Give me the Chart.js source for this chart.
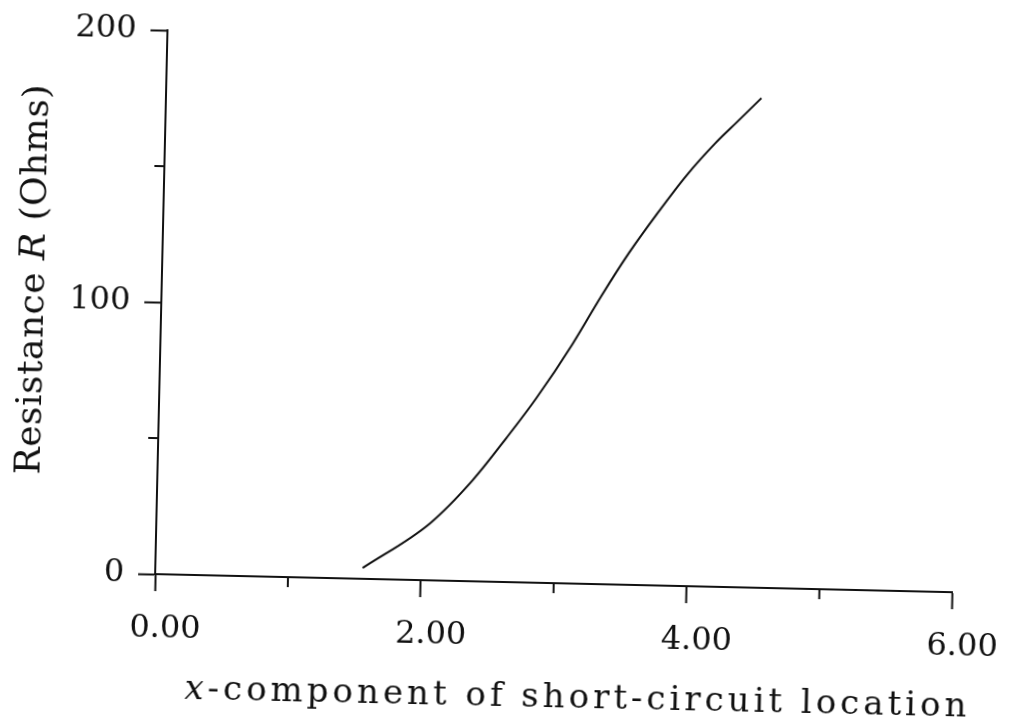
<!DOCTYPE html>
<html>
<head>
<meta charset="utf-8">
<script src="https://cdn.jsdelivr.net/npm/chart.js@4.4.0/dist/chart.umd.min.js"></script>
<style>
    html, body { margin: 0; padding: 0; background: #fff; overflow: hidden; }
    /* the scanned figure sits slightly skewed on the page */
    #wrap { width: 1011px; height: 727px; transform: rotate(1.3deg); transform-origin: 50% 50%; }
</style>
</head>
<body>
<div id="wrap"><canvas id="chart" width="1011" height="727"></canvas></div>
<script>
// data
const xValues = [1.56, 2.06, 2.37, 2.62, 2.84, 3.10, 3.31, 3.51, 3.72, 3.93, 4.14, 4.30, 4.48];
const rValues = [4, 21, 37, 53, 68, 88, 106, 122, 137, 151, 163, 171, 180];

const xMajorTicks = [0, 2, 4, 6];
const xMinorTicks = [1, 3, 5];
const yMajorTicks = [0, 100, 200];
const yMinorTicks = [50, 150];

const xTitleParts = [['x', 'italic'], ['-component of short-circuit location', 'normal']];
const yTitleParts = [['Resistance ', 'normal'], ['R', 'italic'], [' (Ohms)', 'normal']];

const ink = '#111';
const serif = "'DejaVu Serif', 'Liberation Serif', serif";

function drawParts(ctx, parts, cx, cy, size) {
    let total = 0;
    const widths = parts.map(p => {
        ctx.font = `${p[1]} ${size}px ${serif}`;
        const w = ctx.measureText(p[0]).width;
        total += w;
        return w;
    });
    let x = cx - total / 2;
    parts.forEach((p, i) => {
        ctx.font = `${p[1]} ${size}px ${serif}`;
        ctx.fillText(p[0], x, cy);
        x += widths[i];
    });
}

// axis titles (mixed italic/roman), drawn by hand
const axisTitles = {
    id: 'axisTitles',
    afterDraw(chart) {
        const ctx = chart.ctx;
        ctx.save();
        ctx.fillStyle = ink;
        ctx.textAlign = 'left';
        ctx.textBaseline = 'alphabetic';
        ctx.letterSpacing = '4px';
        drawParts(ctx, xTitleParts, 585, 706, 34);
        ctx.letterSpacing = '0.5px';
        ctx.translate(42, 290);
        ctx.rotate(-Math.PI / 2);
        drawParts(ctx, yTitleParts, 0, 0, 36);
        ctx.restore();
    }
};

// shorter unlabelled ticks
const minorTicks = {
    id: 'minorTicks',
    afterDraw(chart) {
        const { ctx, scales: { x, y } } = chart;
        ctx.save();
        ctx.strokeStyle = ink;
        ctx.lineWidth = 2;
        xMinorTicks.forEach(v => {
            const px = x.getPixelForValue(v);
            ctx.beginPath(); ctx.moveTo(px, x.top); ctx.lineTo(px, x.top + 10); ctx.stroke();
        });
        yMinorTicks.forEach(v => {
            const py = y.getPixelForValue(v);
            ctx.beginPath(); ctx.moveTo(y.right, py); ctx.lineTo(y.right - 10, py); ctx.stroke();
        });
        ctx.restore();
    }
};

new Chart(document.getElementById('chart'), {
    type: 'line',
    data: {
        datasets: [{
            data: xValues.map((x, i) => ({ x: x, y: rValues[i] })),
            borderColor: ink,
            borderWidth: 2,
            pointRadius: 0,
            fill: false,
            cubicInterpolationMode: 'monotone'
        }]
    },
    options: {
        responsive: false,
        animation: false,
        layout: { padding: { left: 0, top: 38, right: 50, bottom: 0 } },
        plugins: { legend: { display: false }, tooltip: { enabled: false } },
        scales: {
            x: {
                type: 'linear', min: 0, max: 6,
                afterFit: s => { s.height = 145; },
                border: { display: true, color: ink, width: 2 },
                grid: {
                    drawOnChartArea: false, drawTicks: true, tickLength: 17, tickWidth: 2,
                    tickColor: c => xMajorTicks.includes(c.tick && c.tick.value) ? ink : 'rgba(0,0,0,0)'
                },
                ticks: {
                    stepSize: 1, padding: 18, labelOffset: 11, maxRotation: 0, color: ink,
                    font: { family: serif, size: 32 },
                    callback: v => xMajorTicks.includes(v) ? v.toFixed(2) : ''
                }
            },
            y: {
                type: 'linear', min: 0, max: 200,
                afterFit: s => { s.width = 160; },
                border: { display: true, color: ink, width: 2 },
                grid: {
                    drawOnChartArea: false, drawTicks: true, tickLength: 17, tickWidth: 2,
                    tickColor: c => yMajorTicks.includes(c.tick && c.tick.value) ? ink : 'rgba(0,0,0,0)'
                },
                ticks: {
                    stepSize: 50, padding: 14, color: ink,
                    font: { family: serif, size: 32 },
                    callback: v => yMajorTicks.includes(v) ? String(v) : ''
                }
            }
        }
    },
    plugins: [axisTitles, minorTicks]
});
</script>
</body>
</html>
